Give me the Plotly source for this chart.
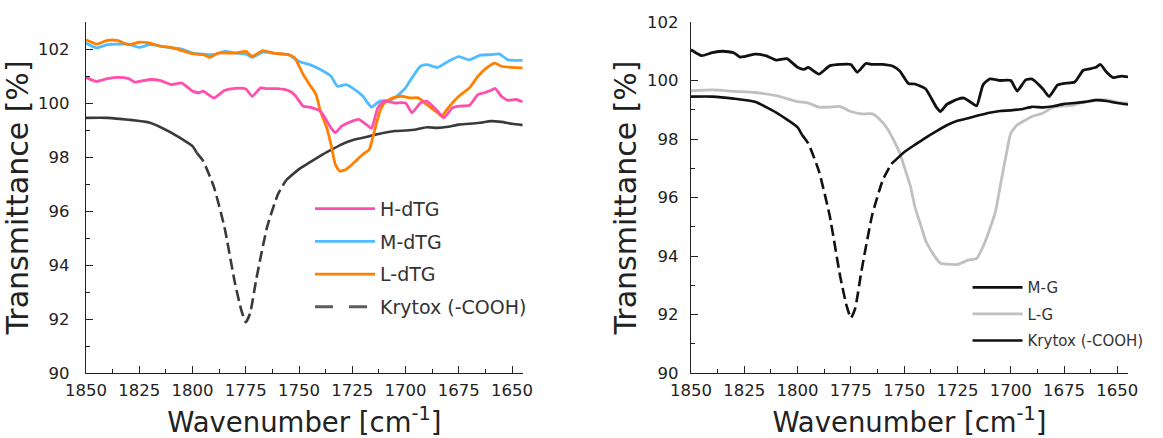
import plotly.graph_objects as go

FONT = "DejaVu Sans"

# ---------------- Left panel data ----------------
h_dtg_wn = [1850, 1845, 1840, 1835, 1830, 1827, 1825, 1820, 1815, 1810, 1805, 1800, 1797, 1795,
            1790, 1785, 1780, 1775, 1772, 1768, 1765, 1760, 1755, 1752, 1748, 1745, 1740, 1735,
            1733, 1730, 1725, 1722, 1718, 1716, 1713, 1710, 1705, 1700, 1697, 1693, 1690, 1685,
            1682, 1678, 1675, 1670, 1666, 1663, 1660, 1658, 1655, 1652, 1648, 1645]
h_dtg_t = [100.95, 100.80, 100.90, 100.95, 100.90, 100.77, 100.80, 100.87, 100.83, 100.68, 100.74,
           100.44, 100.38, 100.44, 100.19, 100.46, 100.54, 100.52, 100.25, 100.56, 100.53, 100.53,
           100.46, 100.30, 99.88, 99.85, 99.70, 99.08, 98.90, 99.14, 99.33, 99.39, 99.18, 99.06,
           99.82, 100.07, 100.00, 100.00, 99.64, 100.00, 100.07, 99.70, 99.45, 99.82, 99.88, 99.92,
           100.31, 100.38, 100.46, 100.54, 100.25, 100.10, 100.13, 100.04]

m_dtg_wn = [1850, 1845, 1840, 1830, 1825, 1820, 1810, 1805, 1800, 1790, 1785, 1780, 1775, 1772,
            1767, 1760, 1755, 1750, 1745, 1740, 1735, 1732, 1728, 1725, 1720, 1716, 1712, 1708,
            1705, 1700, 1697, 1693, 1690, 1685, 1680, 1675, 1670, 1665, 1660, 1656, 1652, 1645]
m_dtg_t = [102.22, 102.04, 102.16, 102.18, 102.06, 102.16, 102.04, 102.00, 101.85, 101.79, 101.91,
           101.85, 101.82, 101.69, 101.88, 101.82, 101.79, 101.54, 101.42, 101.24, 100.99, 100.62,
           100.68, 100.56, 100.25, 99.85, 100.07, 100.09, 100.19, 100.56, 100.93, 101.36, 101.42,
           101.32, 101.54, 101.72, 101.60, 101.77, 101.79, 101.82, 101.60, 101.58]

l_dtg_wn = [1850, 1845, 1840, 1835, 1830, 1825, 1820, 1815, 1810, 1805, 1800, 1795, 1792, 1788,
            1780, 1775, 1772, 1767, 1762, 1755, 1752, 1748, 1745, 1742, 1740, 1737, 1735, 1733,
            1731, 1728, 1725, 1720, 1717, 1715, 1712, 1710, 1706, 1702, 1698, 1694, 1690, 1685,
            1683, 1680, 1675, 1670, 1666, 1662, 1658, 1655, 1650, 1645]
l_dtg_t = [102.34, 102.18, 102.32, 102.31, 102.16, 102.25, 102.22, 102.10, 102.06, 101.94, 101.83,
           101.79, 101.69, 101.85, 101.85, 101.91, 101.73, 101.94, 101.85, 101.79, 101.67, 101.05,
           100.68, 100.31, 99.70, 99.08, 98.47, 97.73, 97.48, 97.54, 97.73, 98.10, 98.28, 98.84,
           99.70, 100.00, 100.19, 100.25, 100.19, 100.19, 99.94, 99.64, 99.51, 99.82, 100.25,
           100.56, 100.99, 101.30, 101.48, 101.36, 101.32, 101.30]

krytox_wn = [1850, 1840, 1830, 1820, 1810, 1800, 1798, 1795, 1790, 1785, 1780, 1777, 1775, 1773,
             1770, 1765, 1760, 1756, 1750, 1745, 1740, 1735, 1730, 1725, 1720, 1715, 1710, 1705,
             1700, 1695, 1690, 1685, 1680, 1675, 1670, 1665, 1660, 1655, 1650, 1645]
krytox_t = [99.45, 99.45, 99.38, 99.27, 98.90, 98.40, 98.15, 97.85, 96.90, 95.40, 93.30, 92.30,
            91.88, 92.20, 93.50, 95.40, 96.60, 97.15, 97.55, 97.80, 98.04, 98.26, 98.47, 98.62,
            98.71, 98.81, 98.90, 98.96, 98.98, 99.02, 99.10, 99.08, 99.12, 99.20, 99.23, 99.27,
            99.33, 99.30, 99.23, 99.18]

# ---------------- Right panel data ----------------
m_g_wn = list(h_dtg_wn)
m_g_t = [101.05, 100.85, 100.95, 101.00, 100.95, 100.80, 100.82, 100.90, 100.85, 100.70, 100.75,
         100.45, 100.38, 100.45, 100.22, 100.50, 100.55, 100.55, 100.28, 100.58, 100.55, 100.55,
         100.48, 100.32, 99.90, 99.88, 99.72, 99.10, 98.94, 99.18, 99.36, 99.40, 99.22, 99.13,
         99.85, 100.05, 100.00, 100.00, 99.64, 100.02, 100.05, 99.72, 99.45, 99.85, 99.90, 99.95,
         100.35, 100.40, 100.45, 100.55, 100.28, 100.10, 100.15, 100.12]

l_g_wn = [1850, 1840, 1830, 1820, 1810, 1800, 1795, 1790, 1785, 1780, 1775, 1770, 1765, 1762,
          1758, 1755, 1752, 1750, 1747, 1745, 1742, 1740, 1737, 1735, 1733, 1730, 1725, 1720,
          1716, 1713, 1710, 1707, 1705, 1702, 1700, 1697, 1693, 1690, 1685, 1680, 1675, 1670,
          1665, 1660, 1655, 1650, 1645]
l_g_t = [99.65, 99.68, 99.63, 99.59, 99.48, 99.28, 99.23, 99.09, 99.09, 99.11, 98.94, 98.86,
         98.86, 98.71, 98.37, 97.97, 97.51, 97.06, 96.37, 95.69, 95.00, 94.54, 94.14, 93.92,
         93.75, 93.72, 93.71, 93.86, 93.92, 94.32, 94.89, 95.57, 96.37, 97.51, 98.20, 98.48,
         98.65, 98.77, 98.88, 99.09, 99.13, 99.17, 99.28, 99.34, 99.34, 99.25, 99.23]

x_ticks = [1850, 1825, 1800, 1775, 1750, 1725, 1700, 1675, 1650]
x_minor = [1837.5, 1812.5, 1787.5, 1762.5, 1737.5, 1712.5, 1687.5, 1662.5]
y_ticks = [90, 92, 94, 96, 98, 100, 102]

DASH_HI, DASH_LO = 1798, 1756
PLOT_DASH = "11px,5px"
LEGEND_DASH = "18px,16px"


def split_krytox():
    a = [(w, t) for w, t in zip(krytox_wn, krytox_t) if w >= DASH_HI]
    b = [(w, t) for w, t in zip(krytox_wn, krytox_t) if DASH_LO <= w <= DASH_HI]
    c = [(w, t) for w, t in zip(krytox_wn, krytox_t) if w <= DASH_LO]
    return a, b, c


fig = go.Figure()


def add(wn, t, name, color, width, xa, ya, legend, show, group, rank, dash="solid"):
    fig.add_trace(go.Scatter(
        x=wn, y=t, name=name, mode="lines",
        line=dict(color=color, width=width, dash=dash, shape="spline", smoothing=0.5),
        xaxis=xa, yaxis=ya, legend=legend, showlegend=show,
        legendgroup=group, legendrank=rank, hoverinfo="skip"))


# Left panel
ka, kb, kc = split_krytox()
add([p[0] for p in ka], [p[1] for p in ka], "Krytox (-COOH)", "#3a3a3a", 2.6, "x", "y", "legend", False, "K1", 4)
add([p[0] for p in kb], [p[1] for p in kb], "Krytox (-COOH)", "#3a3a3a", 2.6, "x", "y", "legend", False, "K1", 4, PLOT_DASH)
add([p[0] for p in kc], [p[1] for p in kc], "Krytox (-COOH)", "#3a3a3a", 2.6, "x", "y", "legend", False, "K1", 4)
# legend sample for Krytox (long gray dashes, as in the reference legend)
fig.add_trace(go.Scatter(x=[None], y=[None], name="Krytox (-COOH)", mode="lines",
                         line=dict(color="#5c5c5c", width=3, dash=LEGEND_DASH),
                         xaxis="x", yaxis="y", legend="legend", showlegend=True,
                         legendgroup="K1", legendrank=4, hoverinfo="skip"))
add(m_dtg_wn, m_dtg_t, "M-dTG", "#4fbcff", 2.8, "x", "y", "legend", True, "M", 2)
add(l_dtg_wn, l_dtg_t, "L-dTG", "#ff8000", 2.8, "x", "y", "legend", True, "L", 3)
add(h_dtg_wn, h_dtg_t, "H-dTG", "#ff4fae", 2.8, "x", "y", "legend", True, "H", 1)

# Right panel
add(l_g_wn, l_g_t, "L-G", "#c0c0c0", 2.8, "x2", "y2", "legend2", True, "LG", 2)
add([p[0] for p in ka], [p[1] for p in ka], "Krytox (-COOH)", "#111111", 2.6, "x2", "y2", "legend2", True, "K2", 3)
add([p[0] for p in kb], [p[1] for p in kb], "Krytox (-COOH)", "#111111", 2.6, "x2", "y2", "legend2", False, "K2", 3, PLOT_DASH)
add([p[0] for p in kc], [p[1] for p in kc], "Krytox (-COOH)", "#111111", 2.6, "x2", "y2", "legend2", False, "K2", 3)
add(m_g_wn, m_g_t, "M-G", "#111111", 2.8, "x2", "y2", "legend2", True, "MG", 1)

axis_common = dict(
    showline=True, linecolor="#222", linewidth=1.4, mirror=False,
    showgrid=False, zeroline=False,
    ticks="inside", ticklen=7, tickwidth=1.3, tickcolor="#222",
    tickfont=dict(family=FONT, size=16.5, color="#222"),
)
minor_common = dict(ticks="inside", ticklen=3.5, tickwidth=1.2, tickcolor="#222")

xtitle = dict(text="Wavenumber [cm<sup>-1</sup>]", font=dict(family=FONT, size=27.5, color="#222"))
ytitle = dict(text="Transmittance [%]", standoff=1, font=dict(family=FONT, size=30, color="#222"))

fig.update_layout(
    width=1163, height=438,
    margin=dict(l=86, r=35, t=22, b=65, autoexpand=False),
    paper_bgcolor="white", plot_bgcolor="white",
    showlegend=True,
    xaxis=dict(axis_common, domain=[0, 0.4191], range=[1850, 1645], autorange=False,
               tickvals=x_ticks, ticklabelstandoff=2,
               minor=dict(minor_common, tickvals=x_minor),
               title=xtitle, anchor="y"),
    yaxis=dict(axis_common, domain=[0, 1], range=[90, 103], autorange=False,
               tickvals=y_ticks, ticklabelstandoff=12,
               minor=dict(minor_common, tickvals=[91, 93, 95, 97, 99, 101, 103]),
               title=ytitle, anchor="x"),
    xaxis2=dict(axis_common, domain=[0.5806, 1.0], range=[1850, 1645], autorange=False,
                tickvals=x_ticks, ticklabelstandoff=2,
                minor=dict(minor_common, tickvals=x_minor),
                title=xtitle, anchor="y2"),
    yaxis2=dict(axis_common, domain=[0, 1], range=[90, 102], autorange=False,
                tickvals=y_ticks, ticklabelstandoff=8,
                minor=dict(minor_common, tickvals=[91, 93, 95, 97, 99, 101]),
                title=ytitle, anchor="x2"),
    legend=dict(x=0.215, y=0.522, xanchor="left", yanchor="top",
                font=dict(family=FONT, size=19, color="#333"),
                bgcolor="rgba(0,0,0,0)", traceorder="grouped", tracegroupgap=5,
                itemwidth=60),
    legend2=dict(x=0.846, y=0.29, xanchor="left", yanchor="top",
                 font=dict(family=FONT, size=15, color="#333"),
                 bgcolor="rgba(0,0,0,0)", traceorder="grouped", tracegroupgap=4,
                 itemwidth=50),
)

fig.write_html("out.html")
